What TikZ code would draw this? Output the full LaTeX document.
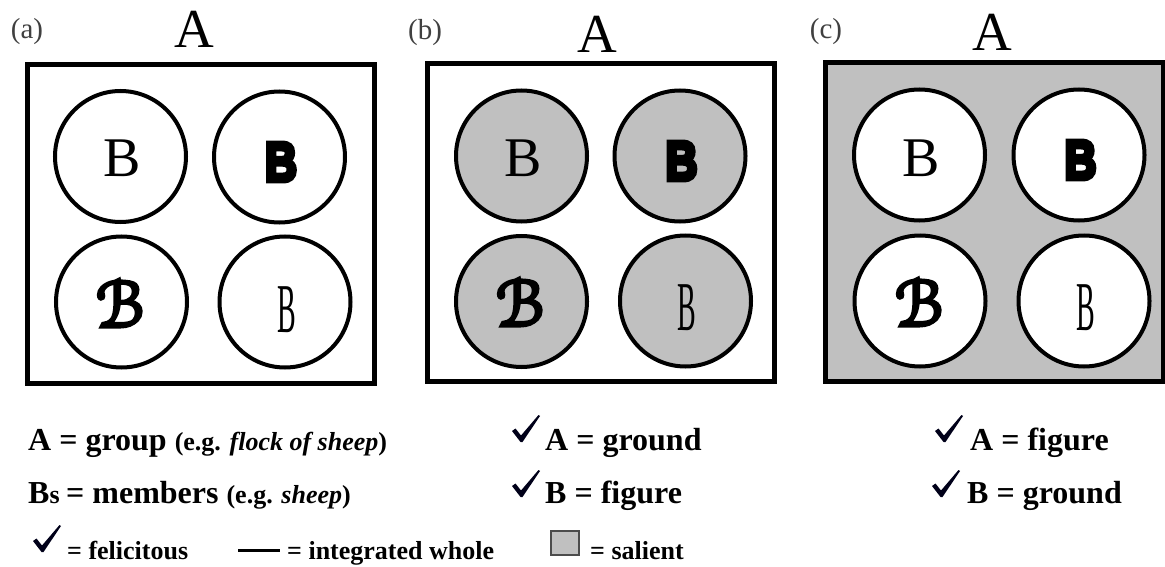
\documentclass[tikz,border=0pt]{standalone}
\usepackage{fontspec}
\usepackage{graphicx}
\setmainfont{Liberation Serif}
\newfontfamily\heavyfont[FakeBold=9]{Liberation Sans}
\newfontfamily\curlyfont[FakeBold=5]{DejaVu Sans}
\definecolor{salient}{RGB}{192,192,192}
\newcommand\bigtxt{\fontsize{32}{36}\selectfont\bfseries}
\newcommand\smalltxt{\fontsize{26}{30}\selectfont\bfseries}

\begin{document}
\begin{tikzpicture}[x=1pt, y=-1pt,
    frame/.style={rectangle, draw, line width=5pt, inner sep=0pt, minimum height=318pt},
    member/.style={circle, draw, line width=4pt, inner sep=0pt, minimum size=131pt},
    tag/.style={inner sep=0pt, font=\fontsize{29}{29}\selectfont, black!75},
    setname/.style={inner sep=0pt, font=\rmfamily\fontsize{55}{55}\selectfont},
    plainB/.style={inner sep=0pt, font=\rmfamily\fontsize{56}{56}\selectfont},
    heavyB/.style={inner sep=0pt, font=\heavyfont\bfseries\fontsize{55}{55}\selectfont},
    scriptB/.style={inner sep=0pt, font=\curlyfont\fontsize{62}{62}\selectfont},
    thinB/.style={inner sep=0pt, font=\rmfamily\fontsize{70}{70}\selectfont},
    legend/.style={anchor=base west, inner sep=0pt, font=\bigtxt},
    note/.style={anchor=base west, inner sep=0pt, font=\smalltxt},
    tick/.pic={\fill[black!90!blue] (0,16) -- (3.5,13.5) -- (9,20.5) -- (26.5,0) -- (28,1) -- (10.5,27) -- (8.5,27) -- cycle;}]
  \useasboundingbox (0,0) rectangle (1165,567);

  % Panel (a)
  \node[tag] (taga) at (27,32) {(a)};
  \node[setname] (seta) at (194,29) {A};
  \node[frame, minimum width=347pt] (boxa) at (200.5,224) {};
  \node[member] (a1) at (120.5,156.5) {};
  \node[member] (a2) at (279.5,157) {};
  \node[member] (a3) at (121.5,302) {};
  \node[member] (a4) at (285,302) {};
  \node[plainB] (ba1) at (122.5,158) {B};
  \node[heavyB] (ba2) at (281,162) {\scalebox{0.8}[1]{B}};
  \node[scriptB] (ba3) at (120,303) {ℬ};
  \node[thinB] (ba4) at (287,310) {\scalebox{0.4}[1]{B}};

  % Panel (b)
  \node[tag] (tagb) at (425,33) {(b)};
  \node[setname] (setb) at (597,34) {A};
  \node[frame, minimum width=347pt] (boxb) at (600.5,222.5) {};
  \node[member, fill=salient] (b1) at (521.5,156) {};
  \node[member, fill=salient] (b2) at (680,156) {};
  \node[member, fill=salient] (b3) at (521.5,301.5) {};
  \node[member, fill=salient] (b4) at (685.5,301) {};
  \node[plainB] (bb1) at (523,158) {B};
  \node[heavyB] (bb2) at (681.5,161) {\scalebox{0.8}[1]{B}};
  \node[scriptB] (bb3) at (520,302) {ℬ};
  \node[thinB] (bb4) at (687,308) {\scalebox{0.4}[1]{B}};

  % Panel (c)
  \node[tag] (tagc) at (826,32) {(c)};
  \node[setname] (setc) at (992,32) {A};
  \node[frame, minimum width=338pt, fill=salient] (boxc) at (994,222) {};
  \node[member, fill=white] (c1) at (919.5,155) {};
  \node[member, fill=white] (c2) at (1079,155) {};
  \node[member, fill=white] (c3) at (920,301) {};
  \node[member, fill=white] (c4) at (1084,301) {};
  \node[plainB] (bc1) at (921,158) {B};
  \node[heavyB] (bc2) at (1080.5,160) {\scalebox{0.8}[1]{B}};
  \node[scriptB] (bc3) at (919,302) {ℬ};
  \node[thinB] (bc4) at (1086,308) {\scalebox{0.4}[1]{B}};

  % Definitions
  \node[legend] (groupdef) at (28,450) {A = group \smalltxt(e.g. \textit{flock of sheep})};
  \node[legend] (memberdef) at (28,503) {B\smalltxt s \bigtxt = members \smalltxt(e.g. \textit{sheep})};
  \pic at (512,415) {tick};
  \node[legend] (groundA) at (545,450) {A = ground};
  \pic at (512,470) {tick};
  \node[legend] (figureB) at (545,503) {B = figure};
  \pic at (935,415) {tick};
  \node[legend] (figureA) at (970,450) {A = figure};
  \pic at (932,470) {tick};
  \node[legend] (groundB) at (967,503) {B = ground};

  % Key
  \pic at (33,525) {tick};
  \node[note] (felicitous) at (67,559) {= felicitous};
  \coordinate (wholeL) at (238,550);
  \coordinate (wholeR) at (280,550);
  \draw[line width=3pt] (wholeL) -- (wholeR);
  \node[note] (whole) at (287,559) {= integrated whole};
  \node[rectangle, draw=black!70, line width=2pt, fill=salient, minimum width=28pt, minimum height=24pt] (swatch) at (565,542.5) {};
  \node[note] (salientkey) at (590,559) {= salient};
\end{tikzpicture}
\end{document}
